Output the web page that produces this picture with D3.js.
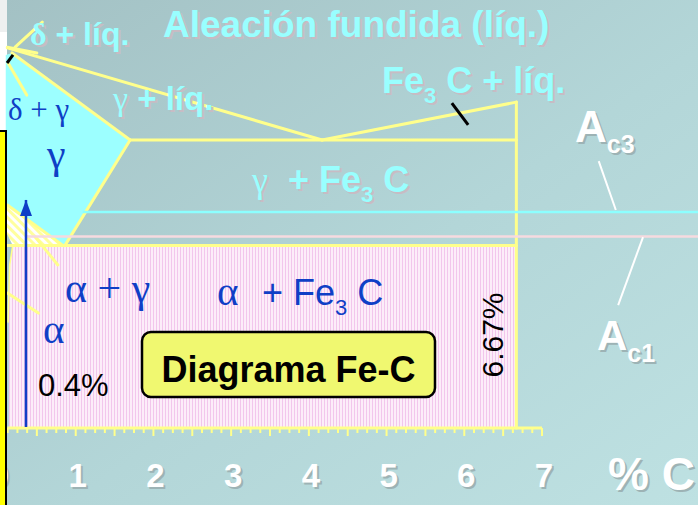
<!DOCTYPE html>
<html><head><meta charset="utf-8">
<script src="https://cdn.jsdelivr.net/npm/d3@7"></script>
<style>html,body{margin:0;padding:0;overflow:hidden;background:#b0d0d2}text{white-space:pre}</style>
</head><body><svg id="c" width="698" height="505"></svg>
<script>
// ---------- DATA (carbon % , temperature °C) ----------
const carbonDomain = [0, 7];
const tempDomain = [0, 1148];
const carbonTicks = [0, 1, 2, 3, 4, 5, 6, 7];
const axisLabel = "% C";

const liquidusLeft   = [[0.12, 1515], [4.17, 1148]];
const liquidusRight  = [[4.17, 1148], [6.67, 1299]];
const cementiteLine  = [[6.67, 1299], [6.67, 0]];
const eutecticLine   = [[1.70, 1148], [6.67, 1148]];
const solidusGamma   = [[0.18, 1495], [1.70, 1148]];
const peritecticLine = [[0.12, 1518], [0.50, 1495]];
const deltaLeader    = [[0.22, 1518], [0.57, 1618]];
const deltaGammaLine = [[0.13, 1455], [0.37, 1327]];
const acmLine        = [[1.70, 1148], [0.86, 727]];
const a3Line         = [[0.12, 889], [0.84, 727]];
const eutectoidLine  = [[0.12, 727], [6.67, 727]];
const alphaGammaLeader = [[0.48, 761], [0.77, 650]];
const alphaLeader    = [[0.12, 538], [0.52, 458]];
const alphaCurve     = [[0.19, 727], [0.15, 650], [0.14, 550], [0.13, 420]];

const gammaRegion    = [[0.10, 1487], [0.18, 1495], [1.70, 1148], [0.86, 727], [0.10, 893]];
const alphaGammaRegion = [[0.10, 893], [0.84, 727], [0.10, 727]];
const pearliteRegion = [[0.14, 727], [6.67, 727], [6.67, 0], [0.14, 0]];
const alphaStrip     = [[0.09, 790], [0.19, 727], [0.15, 650], [0.14, 550], [0.13, 420], [0.09, 420]];

const ac3Temp = 861, ac1Temp = 763;
const ac3Line = [[1.09, ac3Temp], [9.1, ac3Temp]];
const ac1Line = [[0.37, ac1Temp], [9.1, ac1Temp]];
const ac3Leader = [[7.73, 1064], [7.95, 869]];
const ac1Leader = [[8.30, 761], [7.98, 490]];
const steelArrow = [[0.36, 4], [0.36, 909]];
const fe3cMark = [[5.84, 1295], [6.05, 1208]];
const topMark  = [[0.116, 1455], [0.193, 1487]];
const steelCarbon = "0.4%";
const cementiteCarbon = "6.67%";
const title = "Diagrama Fe-C";
const titleBox = [[1.853, 382.7], [5.623, 123.6]];

// ---------- DRAWING ----------
const W = 698, H = 505;
const SANS = "'Liberation Sans', Arial, sans-serif";
const SERIF = "'Liberation Serif', 'Times New Roman', serif";
const CYAN = "#99FFFF", CYAN_SH = "#C7BCC4", WH_SH = "#9DB3B5", BLUE = "#0F3FC6", YEL = "#FFFF8C";
const svg = d3.select("#c");
const x = d3.scaleLinear().domain(carbonDomain).range([-2, 542]);
const y = d3.scaleLinear().domain(tempDomain).range([428, 140]);
const line = d3.line().x(d => x(d[0])).y(d => y(d[1]));
const defs = svg.append("defs");

const bg = defs.append("linearGradient").attr("id", "bg").attr("x1", 0).attr("y1", 0).attr("x2", 1).attr("y2", 1);
[["0%", "#A3C1C4"], ["55%", "#B3D6D8"], ["100%", "#BEE1E2"]].forEach(s => bg.append("stop").attr("offset", s[0]).attr("stop-color", s[1]));
const pp = defs.append("pattern").attr("id", "pearl").attr("patternUnits", "userSpaceOnUse").attr("width", 3).attr("height", 4);
pp.append("rect").attr("width", 3).attr("height", 4).attr("fill", "#FCEDF9");
pp.append("rect").attr("width", 1).attr("height", 4).attr("fill", "#F2C6EC");
const hp = defs.append("pattern").attr("id", "hatch").attr("patternUnits", "userSpaceOnUse").attr("width", 6).attr("height", 6).attr("patternTransform", "rotate(-45)");
hp.append("rect").attr("width", 6).attr("height", 6).attr("fill", "#FFFFFF");
hp.append("rect").attr("width", 3).attr("height", 6).attr("fill", "#FFFF9E");

svg.append("rect").attr("width", W).attr("height", H).attr("fill", "url(#bg)");
// left frame strip
svg.append("rect").attr("x", 0).attr("y", 0).attr("width", 7).attr("height", 131).attr("fill", "#FFFFFF");
svg.append("rect").attr("x", 0).attr("y", 0).attr("width", 7).attr("height", 32).attr("fill", "#EEF0F0");

// regions
svg.append("path").attr("d", line(gammaRegion) + "Z").attr("fill", "#9CFFFF");
svg.append("path").attr("d", line(alphaGammaRegion) + "Z").attr("fill", "url(#hatch)");
svg.append("path").attr("d", line(pearliteRegion) + "Z").attr("fill", "url(#pearl)");
svg.append("path").attr("d", line(alphaStrip) + "Z").attr("fill", "#A9CCCE");

// phase boundaries
[liquidusLeft, liquidusRight, cementiteLine, eutecticLine, solidusGamma, peritecticLine, deltaLeader,
 deltaGammaLine, acmLine, a3Line, eutectoidLine, alphaGammaLeader, alphaLeader].forEach(d =>
  svg.append("path").attr("d", line(d)).attr("fill", "none").attr("stroke", YEL).attr("stroke-width", 3).attr("stroke-linecap", "round"));
svg.append("path").attr("d", line(alphaCurve)).attr("fill", "none").attr("stroke", YEL).attr("stroke-width", 1.5);

// critical temperature lines
svg.append("path").attr("d", line(ac3Line)).attr("stroke", "#8CFFFF").attr("stroke-width", 2.5);
svg.append("path").attr("d", line(ac1Line)).attr("stroke", "#F6DADF").attr("stroke-width", 2.5);

// axis
svg.append("line").attr("x1", x(0.12)).attr("x2", x(7)).attr("y1", y(0)).attr("y2", y(0)).attr("stroke", YEL).attr("stroke-width", 3);
const ticks = d3.range(0.125, 7.0001, 0.125);
svg.selectAll(".tk").data(ticks).join("line").attr("class", "tk")
  .attr("x1", d => x(d)).attr("x2", d => x(d)).attr("y1", y(0))
  .attr("y2", d => y(0) + (Math.abs(d * 2 - Math.round(d * 2)) < 1e-6 ? 8 : 5))
  .attr("stroke", YEL).attr("stroke-width", 2);

// arrow
svg.append("path").attr("d", line(steelArrow)).attr("stroke", BLUE).attr("stroke-width", 2.5);
const tip = [x(steelArrow[1][0]), y(steelArrow[1][1])];
svg.append("path").attr("d", `M${tip[0]},${tip[1]} L${tip[0] - 6},${tip[1] + 16} L${tip[0] + 6},${tip[1] + 16} Z`).attr("fill", BLUE);

// marks and leaders
[fe3cMark, topMark].forEach(d => svg.append("path").attr("d", line(d)).attr("stroke", "#000").attr("stroke-width", 3));
[ac3Leader, ac1Leader].forEach(d => svg.append("path").attr("d", line(d)).attr("stroke", "#FFFFFF").attr("stroke-width", 2));

// rich text helper (shadow drawn as offset copy)
function rich(xp, yp, parts, o) {
  const draw = (dx, dy, fill) => {
    const t = svg.append("text").attr("x", xp + dx).attr("y", yp + dy).attr("fill", fill);
    if (o.anchor) t.attr("text-anchor", o.anchor);
    if (o.rotate) t.attr("transform", `rotate(${o.rotate},${xp + dx},${yp + dy})`);
    let cur = 0;
    parts.forEach(p => {
      const s = p.sub || 0;
      t.append("tspan").text(p.t).attr("font-family", p.f).attr("font-size", p.s)
        .attr("font-weight", p.w || "normal").attr("dy", s - cur);
      cur = s;
    });
    return t;
  };
  if (o.shadow) draw(2, 2, o.shadow);
  return draw(0, 0, o.fill);
}
const cy = { fill: CYAN, shadow: CYAN_SH };
rich(x(0.412), y(1527), [{ t: "δ", f: SERIF, s: 32, w: "bold" }, { t: " + líq.", f: SANS, s: 32, w: "bold" }], cy);
rich(x(2.123), y(1558.5), [{ t: "Aleación fundida (líq.)", f: SANS, s: 37, w: "bold" }], cy);
rich(x(1.48), y(1267.5), [{ t: "γ", f: SERIF, s: 34 }, { t: " + líq.", f: SANS, s: 33, w: "bold" }], cy);
rich(x(4.941), y(1335), [{ t: "Fe", f: SANS, s: 36, w: "bold" }, { t: "3", f: SANS, s: 22, w: "bold", sub: 10 }, { t: " C + líq.", f: SANS, s: 36, w: "bold" }], cy);
rich(x(3.268), y(940.7), [{ t: "γ", f: SERIF, s: 36 }, { t: "  + Fe", f: SANS, s: 36, w: "bold" }, { t: "3", f: SANS, s: 22, w: "bold", sub: 10 }, { t: " C", f: SANS, s: 36, w: "bold" }], cy);
const wh = { fill: "#FFFFFF", shadow: WH_SH };
rich(x(7.425), y(1140), [{ t: "A", f: SANS, s: 44, w: "bold" }, { t: "c3", f: SANS, s: 25, w: "bold", sub: 11 }], wh);
rich(x(7.708), y(311), [{ t: "A", f: SANS, s: 42, w: "bold" }, { t: "c1", f: SANS, s: 25, w: "bold", sub: 12 }], wh);

const bl = { fill: BLUE };
rich(x(0.129), y(1227.7), [{ t: "δ + γ", f: SERIF, s: 31 }], bl);
rich(x(0.631), y(1036.4), [{ t: "γ", f: SERIF, s: 42 }], bl);
rich(x(0.862), y(502), [{ t: "α + γ", f: SERIF, s: 42 }], bl);
rich(x(0.579), y(339), [{ t: "α", f: SERIF, s: 41 }], bl);
rich(x(2.818), y(490), [{ t: "α", f: SERIF, s: 41 }], bl);
rich(x(3.397), y(490), [{ t: "+ Fe", f: SANS, s: 36 }, { t: "3", f: SANS, s: 22, sub: 10 }, { t: " C", f: SANS, s: 36 }], bl);
rich(x(0.515), y(127.6), [{ t: steelCarbon, f: SANS, s: 31 }], { fill: "#000" });
rich(x(6.498), y(370.7), [{ t: cementiteCarbon, f: SANS, s: 30 }], { fill: "#000", anchor: "middle", rotate: -90 });

// axis labels
carbonTicks.forEach(v => rich(x(v) + 2, y(-235), [{ t: String(v), f: SANS, s: 33, w: "bold" }], { fill: "#FFFFFF", shadow: WH_SH, anchor: "middle" }));
rich(x(7.85), y(-247), [{ t: axisLabel, f: SANS, s: 46, w: "bold" }], wh);

// left yellow bar
svg.append("rect").attr("x", -3).attr("y", 131).attr("width", 9).attr("height", 380).attr("fill", "#FFFF00").attr("stroke", "#000").attr("stroke-width", 2);

// title box
svg.append("rect").attr("x", x(titleBox[0][0])).attr("y", y(titleBox[0][1]))
  .attr("width", x(titleBox[1][0]) - x(titleBox[0][0])).attr("height", y(titleBox[1][1]) - y(titleBox[0][1]))
  .attr("rx", 9).attr("fill", "#F0F870").attr("stroke", "#000").attr("stroke-width", 2.5);
rich((x(titleBox[0][0]) + x(titleBox[1][0])) / 2, y(183.4), [{ t: title, f: SANS, s: 36, w: "bold" }], { fill: "#000", anchor: "middle" });
</script></body></html>
